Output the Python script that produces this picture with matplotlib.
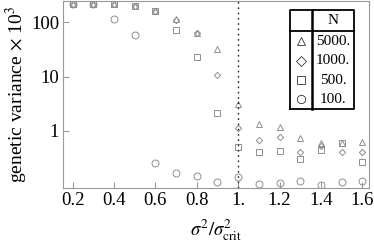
#! /usr/bin/env python3

import matplotlib
matplotlib.use("Agg")
import matplotlib.pyplot as plt

plt.rcParams["font.family"] = ["Liberation Serif", "DejaVu Serif"]
plt.rcParams["mathtext.fontset"] = "stix"

# sigma^2 / sigma^2_crit
x = [0.2, 0.3, 0.4, 0.5, 0.6, 0.7, 0.8, 0.9, 1.0, 1.1, 1.2, 1.3, 1.4, 1.5, 1.6]

# genetic variance x 10^3 for each population size N
n5000 = [220, 215, 215, 200, 160, 114, 63, 32, 3.1, 1.35, 1.17, 0.73, 0.61, 0.61, 0.62]
n1000 = [220, 215, 215, 200, 160, 110, 63, 10.7, 1.12, 0.68, 0.785, 0.415, 0.52, 0.415, 0.415]
n500 = [220, 215, 215, 200, 160, 71.5, 22.8, 2.17, 0.50, 0.405, 0.434, 0.30, 0.44, 0.61, 0.27]
n100 = [220, 215, 114, 58, 0.254, 0.166, 0.150, 0.116, 0.144, 0.106, 0.112, 0.12, 0.101, 0.116, 0.12]

labels = ["5000.", "1000.", "500.", "100."]
series = [n5000, n1000, n500, n100]
markers = ["^", "D", "s", "o"]
msizes = [4.0, 3.2, 4.2, 5.0]

gray = "#8f8f8f"

fig = plt.figure(figsize=(3.74, 2.45), dpi=100)
ax = fig.add_axes([0.1693, 0.2327, 0.8165, 0.7645])

for y, m, s in zip(series, markers, msizes):
    ax.plot(x, y, linestyle="none", marker=m, markersize=s,
            markerfacecolor="none", markeredgecolor=gray, markeredgewidth=0.7)

ax.axvline(1.0, color="#222222", lw=1.0, dashes=(1.2, 2.6))

ax.set_yscale("log")
ax.set_xlim(0.155, 1.631)
ax.set_ylim(0.089, 251)
ax.set_xticks([0.2, 0.4, 0.6, 0.8, 1.0, 1.2, 1.4, 1.6])
ax.set_xticklabels(["0.2", "0.4", "0.6", "0.8", "1.", "1.2", "1.4", "1.6"])
ax.set_yticks([1, 10, 100])
ax.set_yticklabels(["1", "10", "100"])
ax.yaxis.set_minor_locator(matplotlib.ticker.NullLocator())
ax.tick_params(direction="in", length=4, width=0.8, color="#999999",
               labelsize=13.5, pad=3)
for sp in ax.spines.values():
    sp.set_color("#999999")
    sp.set_linewidth(0.8)

ax.set_xlabel(r"$\sigma^2/\sigma^2_{\mathrm{crit}}$", fontsize=13.5, labelpad=6)
ax.set_ylabel(r"genetic variance $\times$ 10$^3$", fontsize=14, labelpad=1)

# table-style legend
tr = ax.transAxes
bl, br, bd = 0.743, 0.9525, 0.8143
bt, bb, bh = 0.950, 0.4218, 0.838
kw = dict(transform=tr, color="black", clip_on=False)
ax.plot([bl, br, br, bl, bl], [bb, bb, bt, bt, bb], lw=1.3, **kw)
ax.plot([bd, bd], [bb, bt], lw=1.8, **kw)
ax.plot([bl, br], [bh, bh], lw=1.3, **kw)
ax.text((bd + br) / 2, (bt + bh) / 2, "N", transform=tr, ha="center",
        va="center", fontsize=11)
rows = [0.7838, 0.6791, 0.5750, 0.4736]
for yy, lab, m in zip(rows, labels, markers):
    ax.plot([(bl + bd) / 2], [yy], marker=m, markersize=6 if m != "D" else 4.8,
            markerfacecolor="none", markeredgecolor="#333333",
            markeredgewidth=0.6, transform=tr, clip_on=False)
    ax.text((bd + br) / 2, yy, lab, transform=tr, ha="center", va="center",
            fontsize=11)

plt.savefig("out.png", dpi=100)
plt.close()
